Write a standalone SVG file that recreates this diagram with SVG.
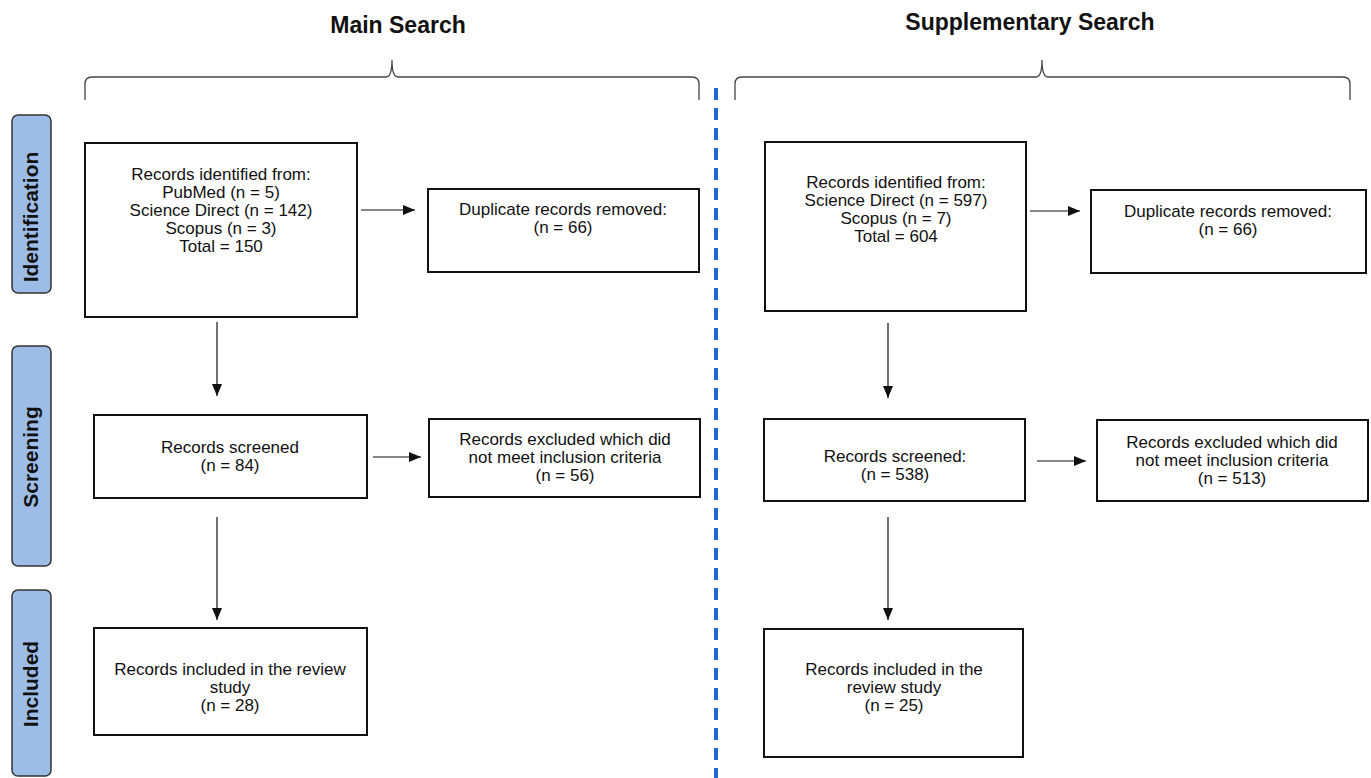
<svg xmlns="http://www.w3.org/2000/svg" width="1371" height="778" viewBox="0 0 1371 778">
<style>
text{font-family:"Liberation Sans",Arial,sans-serif;fill:#111}
.t{font-size:17px;text-anchor:middle}
.h{font-size:23px;font-weight:bold;text-anchor:middle}
.s{font-size:21px;font-weight:bold;text-anchor:middle}
.box{fill:#fff;stroke:#111;stroke-width:2}
.stage{fill:#9dbde6;stroke:#333;stroke-width:1.5}
.conn{stroke:#111;stroke-width:1.2;fill:none}
.brace{stroke:#444;stroke-width:1.3;fill:none}
</style>
<defs>
<marker id="ah" viewBox="0 0 12 10" refX="12" refY="5" markerWidth="12" markerHeight="10" markerUnits="userSpaceOnUse" orient="auto">
<path d="M0,0 L12,5 L0,10 Z" fill="#111"/>
</marker>
</defs>
<rect width="1371" height="778" fill="#fff"/>

<g id="titles">
<text class="h" x="398" y="33">Main Search</text>
<text class="h" x="1030" y="30">Supplementary Search</text>
<path class="brace" d="M85,100 L85,84 Q85,77 92,77 L386,77 Q392,77 392,60 Q392,77 398,77 L692,77 Q699,77 699,84 L699,100"/>
<path class="brace" d="M735,100 L735,84 Q735,77 742,77 L1036,77 Q1042,77 1042,60 Q1042,77 1048,77 L1343,77 Q1350,77 1350,84 L1350,100"/>
</g>

<line id="divider" x1="716" y1="88" x2="716" y2="778" stroke="#1f68d0" stroke-width="4" stroke-dasharray="12 8"/>

<g id="stage-identification">
<rect class="stage" x="12" y="115" width="39" height="178" rx="6"/>
<text class="s" transform="translate(38,217) rotate(-90)">Identification</text>
</g>
<g id="stage-screening">
<rect class="stage" x="12" y="346" width="39" height="220" rx="6"/>
<text class="s" transform="translate(38,457) rotate(-90)">Screening</text>
</g>
<g id="stage-included">
<rect class="stage" x="12" y="590" width="39" height="186" rx="6"/>
<text class="s" transform="translate(38,684) rotate(-90)">Included</text>
</g>

<g id="connectors">
<line class="conn" x1="361" y1="210" x2="415" y2="210" marker-end="url(#ah)"/>
<line class="conn" x1="217" y1="322" x2="217" y2="396" marker-end="url(#ah)"/>
<line class="conn" x1="373" y1="457" x2="421" y2="457" marker-end="url(#ah)"/>
<line class="conn" x1="217" y1="517" x2="217" y2="620" marker-end="url(#ah)"/>
<line class="conn" x1="1030" y1="211" x2="1080" y2="211" marker-end="url(#ah)"/>
<line class="conn" x1="888" y1="323" x2="888" y2="398" marker-end="url(#ah)"/>
<line class="conn" x1="1037" y1="461" x2="1086" y2="461" marker-end="url(#ah)"/>
<line class="conn" x1="888" y1="517" x2="888" y2="620" marker-end="url(#ah)"/>
</g>

<g id="main-identified">
<rect class="box" x="85" y="143" width="272" height="174"/>
<text class="t" x="221" y="180">Records identified from:</text>
<text class="t" x="221" y="198">PubMed (n = 5)</text>
<text class="t" x="221" y="216">Science Direct (n = 142)</text>
<text class="t" x="221" y="234">Scopus (n = 3)</text>
<text class="t" x="221" y="252">Total = 150</text>
</g>
<g id="main-duplicates">
<rect class="box" x="428" y="189" width="271" height="83"/>
<text class="t" x="563" y="215">Duplicate records removed:</text>
<text class="t" x="563" y="233">(n = 66)</text>
</g>
<g id="main-screened">
<rect class="box" x="94" y="415" width="273" height="83"/>
<text class="t" x="230" y="453">Records screened</text>
<text class="t" x="230" y="471">(n = 84)</text>
</g>
<g id="main-excluded">
<rect class="box" x="429" y="419" width="271" height="78"/>
<text class="t" x="565" y="445">Records excluded which did</text>
<text class="t" x="565" y="463">not meet inclusion criteria</text>
<text class="t" x="565" y="481">(n = 56)</text>
</g>
<g id="main-included">
<rect class="box" x="94" y="628" width="273" height="107"/>
<text class="t" x="230" y="675">Records included in the review</text>
<text class="t" x="230" y="693">study</text>
<text class="t" x="230" y="711">(n = 28)</text>
</g>

<g id="supp-identified">
<rect class="box" x="765" y="142" width="261" height="169"/>
<text class="t" x="896" y="188">Records identified from:</text>
<text class="t" x="896" y="206">Science Direct (n = 597)</text>
<text class="t" x="896" y="224">Scopus (n = 7)</text>
<text class="t" x="896" y="242">Total = 604</text>
</g>
<g id="supp-duplicates">
<rect class="box" x="1091" y="190" width="275" height="83"/>
<text class="t" x="1228" y="217">Duplicate records removed:</text>
<text class="t" x="1228" y="235">(n = 66)</text>
</g>
<g id="supp-screened">
<rect class="box" x="764" y="419" width="261" height="82"/>
<text class="t" x="895" y="462">Records screened:</text>
<text class="t" x="895" y="480">(n = 538)</text>
</g>
<g id="supp-excluded">
<rect class="box" x="1097" y="420" width="271" height="81"/>
<text class="t" x="1232" y="448">Records excluded which did</text>
<text class="t" x="1232" y="466">not meet inclusion criteria</text>
<text class="t" x="1232" y="484">(n = 513)</text>
</g>
<g id="supp-included">
<rect class="box" x="764" y="629" width="259" height="128"/>
<text class="t" x="894" y="675">Records included in the</text>
<text class="t" x="894" y="693">review study</text>
<text class="t" x="894" y="711">(n = 25)</text>
</g>
</svg>
